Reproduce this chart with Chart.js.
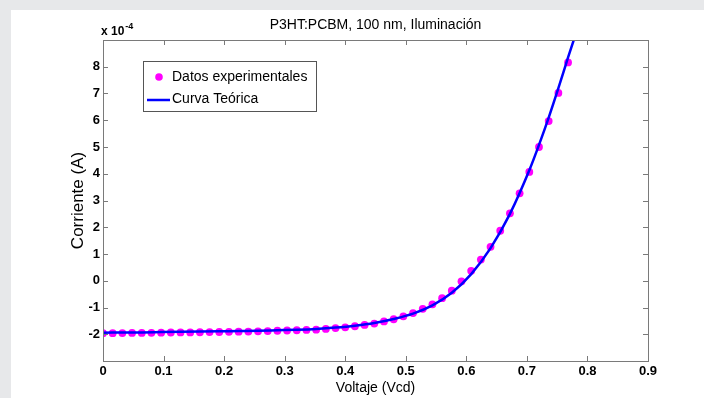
<!DOCTYPE html>
<html><head><meta charset="utf-8">
<script src="https://cdn.jsdelivr.net/npm/chart.js@4.4.0/dist/chart.umd.min.js"></script>
<style>
html,body{margin:0;padding:0;background:#e7e8ea;width:704px;height:398px;overflow:hidden}
#wrap{position:absolute;left:11px;top:10px;width:693px;height:388px;background:#fff}
canvas{display:block}
</style></head><body>
<div id="wrap"><canvas id="c" width="693" height="388"></canvas></div>
<script>
// Voltage (V) of the experimental points
const voltage = [0.000,0.016,0.032,0.048,0.064,0.080,0.096,0.112,0.128,0.144,
  0.160,0.176,0.192,0.208,0.224,0.240,0.256,0.272,0.288,0.304,
  0.320,0.336,0.352,0.368,0.384,0.400,0.416,0.432,0.448,0.464,
  0.480,0.496,0.512,0.528,0.544,0.560,0.576,0.592,0.608,0.624,
  0.640,0.656,0.672,0.688,0.704,0.720,0.736,0.752,0.768];
// Measured current, in units of 1e-4 A
const currentExp = [-1.96,-1.96,-1.955,-1.95,-1.95,-1.945,-1.94,-1.935,-1.93,-1.93,
  -1.925,-1.92,-1.915,-1.91,-1.905,-1.90,-1.89,-1.88,-1.87,-1.86,
  -1.85,-1.84,-1.83,-1.80,-1.77,-1.74,-1.70,-1.65,-1.60,-1.52,
  -1.44,-1.33,-1.21,-1.05,-0.88,-0.65,-0.37,-0.02,0.37,0.79,
  1.27,1.87,2.52,3.27,4.07,5.00,5.97,7.02,8.16];
// Theoretical curve
const voltageTheory = [0.000,0.032,0.064,0.096,0.128,0.160,0.192,0.224,0.256,0.288,
  0.320,0.352,0.384,0.416,0.448,0.480,0.512,0.544,0.576,0.608,
  0.640,0.672,0.704,0.720,0.736,0.752,0.768,0.784];
const currentTheory = [-1.94,-1.935,-1.93,-1.92,-1.91,-1.90,-1.89,-1.88,-1.87,-1.85,
  -1.83,-1.80,-1.75,-1.68,-1.58,-1.43,-1.23,-0.92,-0.45,0.25,
  1.22,2.50,4.13,5.08,6.10,7.20,8.35,9.45];
const xTicks = [0,0.1,0.2,0.3,0.4,0.5,0.6,0.7,0.8,0.9];
const yTicks = [-2,-1,0,1,2,3,4,5,6,7,8];
const xRange = [0, 0.9];
const yRange = [-3, 9];
const titleText = 'P3HT:PCBM, 100 nm, Iluminación';
const xLabel = 'Voltaje (Vcd)';
const yLabel = 'Corriente (A)';
const legendLabels = ['Datos experimentales', 'Curva Teórica'];
const exponentBase = 'x 10';
const exponentPower = '-4';

const SANS = '"Liberation Sans", Arial, Helvetica, sans-serif';
const AXIS_COLOR = '#7a7a7a';

const boxPlugin = {
  id: 'matlabBox',
  afterDraw(chart) {
    const {ctx, chartArea: a, scales: {x, y}} = chart;
    ctx.save();
    ctx.strokeStyle = AXIS_COLOR;
    ctx.lineWidth = 1;
    ctx.strokeRect(a.left + 0.5, a.top + 0.5, a.right - a.left, a.bottom - a.top);
    ctx.beginPath();
    const L = 5;
    x.ticks.forEach(t => {
      const px = Math.round(x.getPixelForValue(t.value)) + 0.5;
      ctx.moveTo(px, a.bottom); ctx.lineTo(px, a.bottom - L);
      ctx.moveTo(px, a.top); ctx.lineTo(px, a.top + L);
    });
    y.ticks.forEach(t => {
      const py = Math.round(y.getPixelForValue(t.value)) + 0.5;
      ctx.moveTo(a.left, py); ctx.lineTo(a.left + L, py);
      ctx.moveTo(a.right, py); ctx.lineTo(a.right - L, py);
    });
    ctx.stroke();
    // title
    ctx.fillStyle = '#000';
    ctx.textAlign = 'center';
    ctx.textBaseline = 'alphabetic';
    ctx.font = '14px ' + SANS;
    ctx.fillText(titleText, (a.left + a.right) / 2, a.top - 11);
    // exponent
    ctx.textAlign = 'left';
    ctx.font = 'bold 12px ' + SANS;
    ctx.fillText(exponentBase, a.left - 2, a.top - 5);
    const w = ctx.measureText(exponentBase).width;
    ctx.font = 'bold 9px ' + SANS;
    ctx.fillText(exponentPower, a.left - 2 + w + 1, a.top - 11);
    // legend
    const ds = chart.data.datasets;
    const lx = a.left + 40, ly = a.top + 21, lw = 173, lh = 50;
    ctx.fillStyle = '#fff';
    ctx.fillRect(lx, ly, lw, lh);
    ctx.strokeStyle = '#555';
    ctx.strokeRect(lx + 0.5, ly + 0.5, lw, lh);
    ctx.fillStyle = ds[1].backgroundColor;
    ctx.beginPath();
    ctx.arc(lx + 16, ly + 16, 3.8, 0, Math.PI * 2);
    ctx.fill();
    ctx.strokeStyle = ds[0].borderColor;
    ctx.lineWidth = 2.5;
    ctx.beginPath();
    ctx.moveTo(lx + 4, ly + 39); ctx.lineTo(lx + 27, ly + 39);
    ctx.stroke();
    ctx.fillStyle = '#000';
    ctx.font = '14px ' + SANS;
    ctx.textBaseline = 'middle';
    ctx.fillText(legendLabels[0], lx + 29, ly + 16);
    ctx.fillText(legendLabels[1], lx + 29, ly + 38);
    ctx.restore();
  }
};

new Chart(document.getElementById('c'), {
  type: 'scatter',
  data: {
    datasets: [
      {
        label: legendLabels[1],
        data: voltageTheory.map((v, i) => ({x: v, y: currentTheory[i]})),
        showLine: true,
        borderColor: '#0000ff',
        borderWidth: 2.5,
        pointRadius: 0,
        cubicInterpolationMode: 'monotone',
        order: 0
      },
      {
        label: legendLabels[0],
        data: voltage.map((v, i) => ({x: v, y: currentExp[i]})),
        backgroundColor: '#ff00ff',
        borderWidth: 0,
        pointRadius: 3.9,
        order: 1
      }
    ]
  },
  options: {
    responsive: false,
    animation: false,
    devicePixelRatio: 1,
    layout: {padding: {left: 0, top: 30, right: 56, bottom: 0}},
    plugins: {legend: {display: false}, tooltip: {enabled: false}, title: {display: false}},
    scales: {
      x: {
        type: 'linear', min: xRange[0], max: xRange[1],
        afterBuildTicks: s => { s.ticks = xTicks.map(v => ({value: v})); },
        afterFit: s => { s.height = 37; },
        grid: {display: false, drawTicks: false},
        border: {display: false},
        ticks: {color: '#000', padding: 3, font: {family: SANS, size: 13, weight: 'bold'},
          callback: v => v === 0 ? '0' : v.toFixed(1), maxRotation: 0, autoSkip: false},
        title: {display: true, text: xLabel, color: '#000', font: {family: SANS, size: 14}, padding: {top: 0, bottom: 1.5}}
      },
      y: {
        type: 'linear', min: yRange[0], max: yRange[1],
        afterBuildTicks: s => { s.ticks = yTicks.map(v => ({value: v})); },
        afterFit: s => { s.width = 92; },
        grid: {display: false, drawTicks: false},
        border: {display: false},
        ticks: {color: '#000', padding: 3, font: {family: SANS, size: 13, weight: 'bold'},
          callback: v => String(v), autoSkip: false},
        title: {display: true, text: yLabel, color: '#000', font: {family: SANS, size: 17}, padding: {top: 57, bottom: 0}}
      }
    }
  },
  plugins: [boxPlugin]
});
</script>
</body></html>
